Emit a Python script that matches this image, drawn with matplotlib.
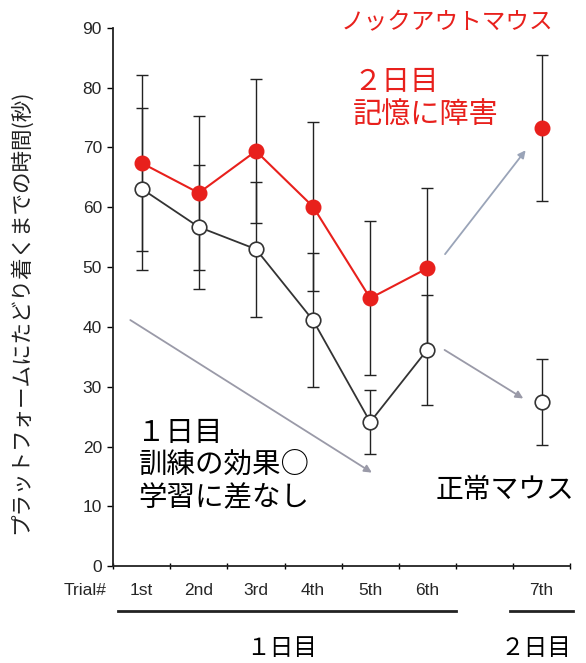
import matplotlib
matplotlib.use("Agg")
import matplotlib.pyplot as plt
from matplotlib.transforms import blended_transform_factory

plt.rcParams['font.family'] = ['Liberation Sans', 'Noto Sans CJK JP', 'DejaVu Sans']
JP = ['Noto Sans CJK JP', 'DejaVu Sans']

trials = ["1st", "2nd", "3rd", "4th", "5th", "6th", "7th"]
trial_pos = [0.5, 1.5, 2.5, 3.5, 4.5, 5.5, 7.5]

ko_mean = [67.4, 62.4, 69.4, 60.1, 44.8, 49.8, 73.3]
ko_err = [14.7, 12.8, 12.1, 14.1, 12.9, 13.4, 12.2]
wt_mean = [63.1, 56.7, 53.0, 41.1, 24.1, 36.2, 27.5]
wt_err = [13.5, 10.3, 11.3, 11.2, 5.4, 9.2, 7.2]

red = '#e8201c'

fig = plt.figure(figsize=(5.86, 6.63), dpi=100)
ax = fig.add_axes([0.193, 0.146, 0.780, 0.812])

# error bars first, lines and markers on top
ax.errorbar(trial_pos, ko_mean, yerr=ko_err, fmt='none', ecolor='#222222',
            elinewidth=1.0, capsize=4, capthick=1.0, zorder=2)
ax.errorbar(trial_pos, wt_mean, yerr=wt_err, fmt='none', ecolor='#222222',
            elinewidth=1.0, capsize=4, capthick=1.0, zorder=2)

ax.plot(trial_pos[:6], ko_mean[:6], color=red, lw=1.5, zorder=3)
ax.plot(trial_pos[:6], wt_mean[:6], color='#333333', lw=1.3, zorder=3)
ax.plot(trial_pos, ko_mean, 'o', color=red, mec=red, ms=10.5, zorder=4)
ax.plot(trial_pos, wt_mean, 'o', color='white', mec='#333333', mew=1.2, ms=10.5, zorder=4)

# arrows between days
arrow_kw = dict(arrowstyle='-|>', color='#9a9aa8', lw=1.3, mutation_scale=11)
ax.annotate('', xy=(4.57, 15.4), xytext=(0.26, 41.4), arrowprops=arrow_kw, zorder=1)
ax.annotate('', xy=(7.25, 69.9), xytext=(5.78, 51.8),
            arrowprops=dict(arrow_kw, color='#9aa4b8'), zorder=1)
ax.annotate('', xy=(7.22, 27.8), xytext=(5.76, 36.4), arrowprops=arrow_kw, zorder=1)

ax.set_xlim(0, 8)
ax.set_ylim(0, 90)
ax.set_yticks(range(0, 91, 10))
ax.set_xticks(range(0, 9))
ax.set_xticklabels([])
ax.set_xticks(trial_pos, minor=True)
ax.set_xticklabels(trials, minor=True)
ax.tick_params(axis='x', which='minor', length=0, pad=12, labelsize=12.5, labelcolor='#262626')
ax.tick_params(axis='x', which='major', length=4, direction='inout', width=1.0)
ax.tick_params(axis='y', length=4, width=1.0, labelsize=12.5, labelcolor='#262626', pad=4)
for s in ['top', 'right']:
    ax.spines[s].set_visible(False)
for s in ['left', 'bottom']:
    ax.spines[s].set_linewidth(1.3)
    ax.spines[s].set_color('#222222')

ax.set_ylabel('プラットフォームにたどり着くまでの時間(秒)', family=JP, fontsize=15.5,
              color='#222222')
ax.yaxis.set_label_coords(-0.178, 0.472)

trans = blended_transform_factory(ax.transData, ax.transAxes)
ax.text(-0.12, -0.0446, 'Trial#', transform=trans, ha='right', va='center',
        fontsize=12.5, color='#262626')

# day brackets under the trial labels
ax.plot([0.09, 6.0], [-0.084, -0.084], transform=trans, color='#222222', lw=2, clip_on=False)
ax.plot([6.95, 8.05], [-0.084, -0.084], transform=trans, color='#222222', lw=2, clip_on=False)
ax.text(2.95, -0.152, '１日目', transform=trans, ha='center', va='center',
        family=JP, fontsize=17)
ax.text(7.4, -0.152, '２日目', transform=trans, ha='center', va='center',
        family=JP, fontsize=17)

ax.text(7.7, 90.8, 'ノックアウトマウス', ha='right', va='center', family=JP,
        fontsize=17, color=red, clip_on=False)
ax.text(4.2, 81.0, '２日目', ha='left', va='center', family=JP, fontsize=20.5, color=red)
ax.text(4.2, 75.5, '記憶に障害', ha='left', va='center', family=JP, fontsize=21, color=red)

ax.text(0.42, 22.2, '１日目', ha='left', va='center', family=JP, fontsize=20.5)
ax.text(0.45, 17.0, '訓練の効果○', ha='left', va='center', family=JP, fontsize=20.5)
ax.text(0.45, 11.3, '学習に差なし', ha='left', va='center', family=JP, fontsize=20.5)
ax.text(5.65, 12.8, '正常マウス', ha='left', va='center', family=JP, fontsize=20)

fig.savefig('out.png', dpi=100)
